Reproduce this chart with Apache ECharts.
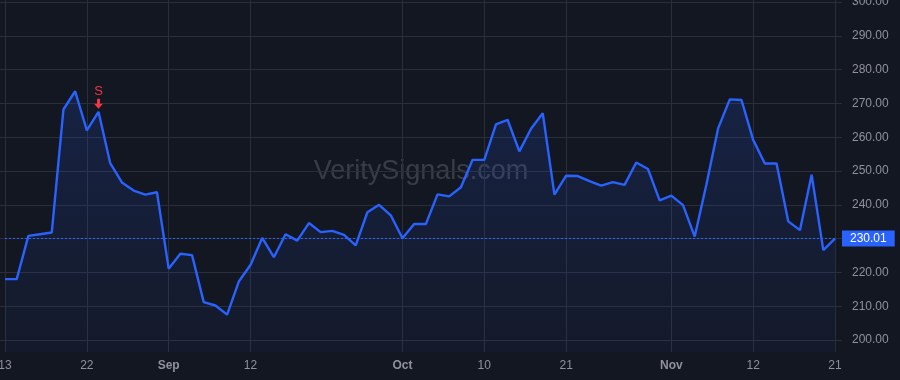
<!DOCTYPE html>
<html lang="en">
<head>
<meta charset="UTF-8">
<title>VeritySignals</title>
<script src="https://cdn.jsdelivr.net/npm/echarts@6.0.0/dist/echarts.min.js"></script>
<style>
  html, body { margin: 0; padding: 0; background: #131722; }
  #main { width: 900px; height: 380px; }
</style>
</head>
<body>
<div id="main"></div>
<script>
// trading days shown on the chart
var augDays = [13, 14, 15, 16, 19, 20, 21, 22, 23, 26, 27, 28, 29, 30]
var sepDays = [3, 4, 5, 6, 9, 10, 11, 12, 13, 16, 17, 18, 19, 20, 23, 24, 25, 26, 27, 30]
var octDays = [1, 2, 3, 4, 7, 8, 9, 10, 11, 14, 15, 16, 17, 18, 21, 22, 23, 24, 25, 28, 29, 30, 31]
var novDays = [1, 4, 5, 6, 7, 8, 11, 12, 13, 14, 15, 18, 19, 20, 21]

// closing prices, one per trading day
var closes = [
  218.0, 218.0, 230.8, 231.3, 231.8, 268.2, 273.6, 262.0, 267.5, 252.3,
  246.6, 244.2, 243.0, 243.7, 221.1, 225.5, 225.1, 211.2, 210.2, 207.5,
  217.3, 222.2, 230.2, 224.5, 231.3, 229.4, 234.6, 231.9, 232.3, 231.1,
  228.0, 237.8, 240.0, 236.9, 230.1, 234.3, 234.3, 243.1, 242.5, 245.2,
  253.3, 253.3, 263.8, 265.1, 255.8, 262.5, 267.1, 243.0, 248.6, 248.5,
  247.0, 245.7, 246.7, 245.9, 252.5, 250.6, 241.3, 242.7, 239.9, 230.6,
  246.0, 262.6, 271.2, 271.0, 259.2, 252.2, 252.2, 235.1, 232.5, 248.9,
  226.6, 230.01
]

// x tick labels (index into the days)
var tickIndex = [0, 7, 14, 21, 34, 41, 48, 57, 64, 71]
var tickText = ['13', '22', 'Sep', '12', 'Oct', '10', '21', 'Nov', '12', '21']
var monthTicks = ['Sep', 'Oct', 'Nov']

// sell signal
var signalIndex = 8
var signalText = 'S'

var dates = []
;[['Aug', augDays], ['Sep', sepDays], ['Oct', octDays], ['Nov', novDays]].forEach(function (m) {
  m[1].forEach(function (d) { dates.push(m[0] + ' ' + d) })
})
var lastPrice = closes[closes.length - 1]

var font = '"Liberation Sans", Arial, sans-serif'
var textColor = '#8f929b'
var gridColor = '#2a2e39'
var blue = '#2962ff'

function isTick (i) { return tickIndex.indexOf(i) !== -1 }

var chart = echarts.init(document.getElementById('main'))

var option = {
  backgroundColor: '#131722',
  animation: false,
  textStyle: { fontFamily: font },
  graphic: [{
    type: 'text',
    x: 421,
    y: 172,
    z: -10,
    style: {
      text: 'VeritySignals.com',
      fontSize: 27,
      fontFamily: font,
      fill: 'rgba(255,255,255,0.16)',
      align: 'center',
      verticalAlign: 'middle'
    }
  }],
  grid: [
    { left: 5, right: 65, top: 0, bottom: 28, outerBoundsMode: 'none', containLabel: false },
    { left: 0, right: 58, top: 2, bottom: 40, outerBoundsMode: 'none', containLabel: false }
  ],
  xAxis: [
    {
      type: 'category',
      gridIndex: 0,
      data: dates,
      boundaryGap: false,
      axisLine: { show: false },
      axisTick: { show: false, interval: isTick },
      axisLabel: {
        interval: isTick,
        showMinLabel: true,
        showMaxLabel: true,
        margin: 8,
        color: textColor,
        fontSize: 12,
        formatter: function (v, i) {
          var t = tickText[tickIndex.indexOf(i)]
          if (monthTicks.indexOf(t) !== -1) return '{b|' + t + '}'
          return t
        },
        rich: {
          b: { fontWeight: 'bold', color: textColor, fontSize: 12, fontFamily: font }
        }
      },
      splitLine: { show: true, interval: isTick, lineStyle: { color: gridColor, width: 1 } }
    },
    { type: 'value', gridIndex: 1, show: false, min: 0, max: 1 }
  ],
  yAxis: [
    { type: 'value', gridIndex: 0, min: 196.45, max: 300.59, show: false },
    {
      type: 'value',
      gridIndex: 1,
      min: 200,
      max: 300,
      interval: 10,
      position: 'right',
      axisLine: { show: false },
      axisTick: { show: false },
      axisLabel: {
        color: textColor,
        fontSize: 12,
        margin: 10,
        formatter: function (v) { return v.toFixed(2) }
      },
      splitLine: { lineStyle: { color: gridColor, width: 1 } }
    }
  ],
  series: [{
    type: 'line',
    xAxisIndex: 0,
    yAxisIndex: 0,
    data: closes,
    symbol: 'none',
    z: 3,
    lineStyle: { color: blue, width: 2.4 },
    areaStyle: {
      color: new echarts.graphic.LinearGradient(0, 0, 0, 1, [
        { offset: 0, color: 'rgba(41,98,255,0.22)' },
        { offset: 1, color: 'rgba(41,98,255,0.05)' }
      ])
    },
    markLine: {
      silent: true,
      symbol: ['none', 'none'],
      lineStyle: { color: blue, type: [2, 2], width: 1 },
      label: {
        position: 'end',
        distance: 7,
        formatter: lastPrice.toFixed(2),
        color: '#ffffff',
        fontSize: 12,
        backgroundColor: blue,
        padding: [2, 8]
      },
      data: [{ yAxis: lastPrice }]
    },
    markPoint: {
      silent: true,
      data: [{
        coord: [dates[signalIndex], closes[signalIndex]],
        symbol: 'path://M3,0 L6,0 L6,5 L9,5 L4.5,10 L0,5 L3,5 Z',
        symbolSize: [9, 10],
        symbolOffset: [0, -8],
        itemStyle: { color: '#f23645' },
        label: {
          show: true,
          position: 'top',
          distance: 1,
          formatter: signalText,
          color: '#f23645',
          fontSize: 13
        }
      }]
    }
  }]
}

chart.setOption(option)
</script>
</body>
</html>
